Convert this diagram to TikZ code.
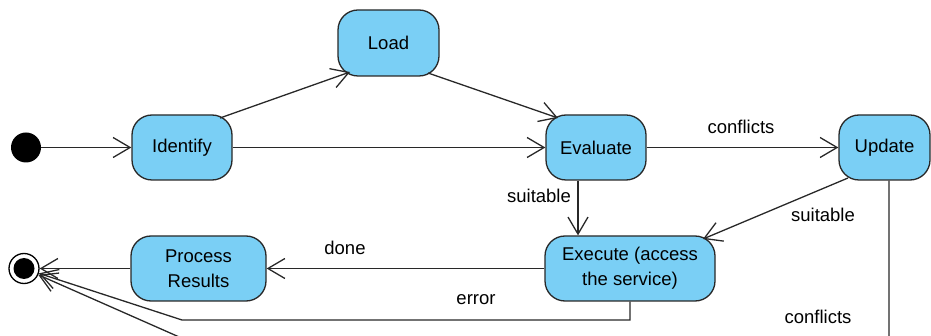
\documentclass[tikz,border=0pt]{standalone}
\usepackage{fontspec}
\setmainfont{Liberation Sans}
\usetikzlibrary{arrows.meta}
\definecolor{statefill}{RGB}{122,207,245}
\definecolor{edge}{RGB}{40,40,40}
\tikzset{
  state/.style={draw=edge, fill=statefill, line width=1.3pt, rounded corners=20pt,
    minimum width=100pt, minimum height=65pt, inner sep=0pt, align=center,
    font=\fontsize{18.5}{25}\selectfont},
  lbl/.style={font=\fontsize{18.5}{22}\selectfont, inner sep=0pt},
  conn/.style={draw=edge, line width=1.3pt, -{Straight Barb[length=17pt,width=20pt,line width=1.3pt]}},
}
\begin{document}
\begin{tikzpicture}[x=1pt,y=-1pt]
\clip (0,0) rectangle (931,336);
\useasboundingbox (0,0) rectangle (931,336);
% nodes
\node[circle, fill=black, minimum size=30pt, inner sep=0pt] (init) at (26,147.5) {};
\node[state] (identify) at (182,147.5) {Identify};
\node[state, minimum width=101pt, minimum height=66pt] (load) at (388.5,43) {Load};
\node[state] (evaluate) at (596,147.5) {Evaluate};
\node[state, minimum width=91pt] (update) at (884.5,147.5) {Update};
\node[state, minimum width=170pt] (execute) at (630,268.5) {Execute (access\\the service)};
\node[state, minimum width=135pt] (process) at (198.5,268.5) {Process\\Results};
\node[circle, draw=black, line width=1.3pt, minimum size=30pt, inner sep=0pt] (final) at (24,268.5) {};
\fill[black] (final.center) circle (10.5pt);
% helper coordinates
\coordinate (e1) at (182,320);
\coordinate (c1) at (889,355);
\coordinate (c2) at (220,355);
% connectors
\draw[conn] (init) -- (identify);
\draw[conn] ([shift={(38,-29.5)}]identify.center) -- ([shift={(-38.5,29)}]load.center);
\draw[conn] ([shift={(39.5,30)}]load.center) -- ([shift={(-38,-29.5)}]evaluate.center);
\draw[conn] (identify) -- (evaluate);
\draw[conn] (evaluate) -- (update);
\draw[conn] (578,0 |- evaluate.south) -- (578,0 |- execute.north);
\draw[conn] ([shift={(-36.5,30.5)}]update.center) -- ([shift={(73,-29.5)}]execute.center);
\draw[conn] (execute) -- (process);
\draw[conn] (process) -- (final);
\draw[conn] (execute.south) -- (execute.south |- e1) -- (e1) -- (final);
\draw[conn] (889,0 |- update.south) -- (c1) -- (c2) -- (final);
% labels
\node[lbl] (lconf1) at (741,126.5) {conflicts};
\node[lbl] (lsuit1) at (539,196) {suitable};
\node[lbl] (lsuit2) at (823,215) {suitable};
\node[lbl] (ldone) at (345,247.5) {done};
\node[lbl] (lerr) at (476,300) {error};
\node[lbl] (lconf2) at (818,317) {conflicts};
\end{tikzpicture}
\end{document}
